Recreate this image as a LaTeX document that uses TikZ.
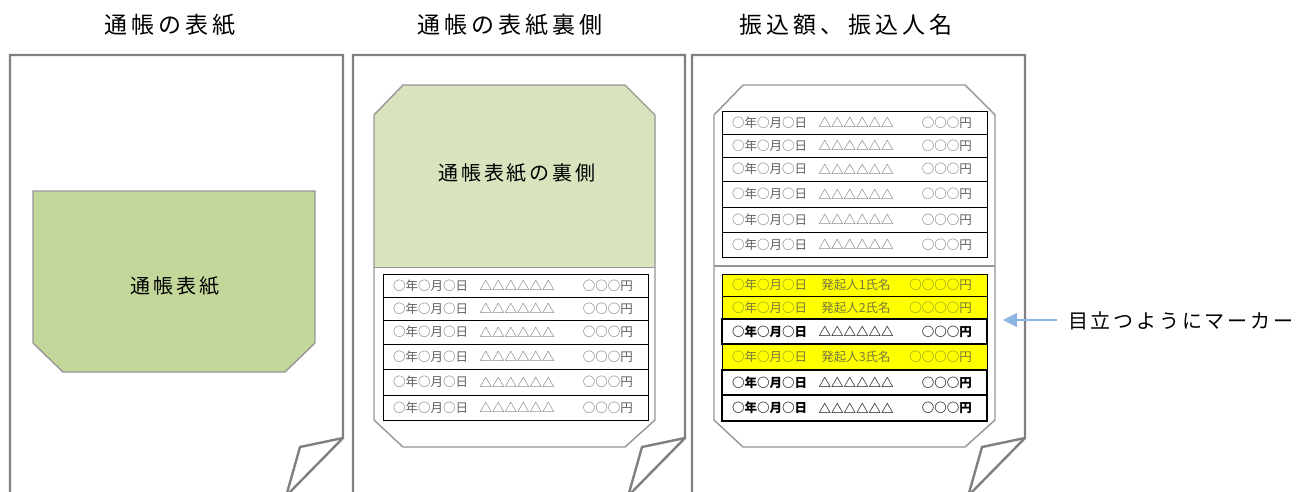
\documentclass[tikz,border=0pt]{standalone}
\usepackage{fontspec}
\newfontfamily\jp{Noto Sans CJK JP}
\newfontfamily\jptitle{Noto Sans CJK JP}[LetterSpace=18]
\newfontfamily\jpmid{Noto Sans CJK JP}[LetterSpace=14]
\usetikzlibrary{arrows.meta}
\definecolor{pagegray}{RGB}{128,128,128}
\definecolor{octgray}{RGB}{150,150,150}
\definecolor{green1}{RGB}{196,215,155}
\definecolor{green2}{RGB}{215,228,189}
\definecolor{lighttxt}{RGB}{95,95,95}
\definecolor{olivetxt}{RGB}{120,120,60}
\definecolor{mkyellow}{RGB}{255,255,0}
\definecolor{arrblue}{RGB}{141,180,226}
\tikzset{
  pageline/.style={draw=pagegray, line width=2.4pt, line join=miter},
  octline/.style={draw=octgray, line width=1.4pt},
  tbl/.style={draw=black, line width=0.9pt},
  tblb/.style={draw=black, line width=2pt},
  title/.style={font=\jptitle\fontsize{23}{26}\selectfont, inner sep=0pt},
  midtxt/.style={font=\jpmid\fontsize{20}{24}\selectfont, inner sep=0pt},
  lt/.style={font=\jp\fontsize{12.5}{14}\selectfont, text=lighttxt, inner sep=0pt},
  yt/.style={font=\jp\fontsize{12.5}{14}\selectfont, text=olivetxt, inner sep=0pt},
  bt/.style={font=\jp\bfseries\fontsize{12.5}{14}\selectfont, text=black, inner sep=0pt},
  arr/.style={draw=arrblue, line width=1.2pt, -{Triangle[length=14pt,width=14pt]}},
}
% light row: name, left, right, top, bottom
\newcommand\lrow[5]{%
  \draw[tbl] (#2,#4) rectangle (#3,#5);
  \node[lt, anchor=west] (#1d) at ({#2+10},{(#4+#5)/2}) {○年○月○日};
  \node[lt] (#1t) at ({#2+134},{(#4+#5)/2}) {△△△△△△};
  \node[lt, anchor=east] (#1y) at ({#3-15},{(#4+#5)/2}) {○○○円};
}
% yellow row
\newcommand\yrow[6]{%
  \filldraw[tbl, fill=mkyellow] (#2,#4) rectangle (#3,#5);
  \node[yt, anchor=west] (#1d) at ({#2+10},{(#4+#5)/2}) {○年○月○日};
  \node[yt] (#1t) at ({#2+134},{(#4+#5)/2}) {発起人#6氏名};
  \node[yt, anchor=east] (#1y) at ({#3-15},{(#4+#5)/2}) {○○○○円};
}
% bold row
\newcommand\brow[5]{%
  \draw[tblb] (#2,#4) rectangle (#3,#5);
  \node[bt, anchor=west] (#1d) at ({#2+10},{(#4+#5)/2}) {○年○月○日};
  \node[bt] (#1t) at ({#2+134},{(#4+#5)/2}) {△△△△△△};
  \node[bt, anchor=east] (#1y) at ({#3-15},{(#4+#5)/2}) {○○○円};
}
% page: left, right
\newcommand\pageshape[2]{%
  \draw[pageline] (#1,493) -- (#1,55) -- (#2,55) -- (#2,438) -- ({#2-54},493);
  \draw[pageline] (#2,438) -- ({#2-43},447) -- ({#2-56},493);
}
\begin{document}
\begin{tikzpicture}[x=1pt,y=-1pt]
\useasboundingbox[fill=white] (0,0) rectangle (1311,492);

% titles
\node[title] (t1) at (170,25) {通帳の表紙};
\node[title] (t2) at (510,25) {通帳の表紙裏側};
\node[title] (t3) at (846,25) {振込額、振込人名};

% pages
\pageshape{10}{343}
\pageshape{353}{685}
\pageshape{692}{1025}

% page 1 cover
\filldraw[octline, fill=green1] (33,191) -- (315,191) -- (315,343) -- (285,372) -- (63,372) -- (33,343) -- cycle;
\node[midtxt] (c1) at (175,286) {通帳表紙};

% page 2
\fill[green2] (403,85) -- (625,85) -- (655,115) -- (655,267) -- (374,267) -- (374,115) -- cycle;
\draw[octline] (403,85) -- (625,85) -- (655,115) -- (655,420) -- (625,447) -- (403,447) -- (374,420) -- (374,115) -- cycle;
\draw[draw=octgray, line width=0.8pt] (374,267) -- (655,267);
\node[midtxt] (c2) at (517,173) {通帳表紙の裏側};
\lrow{pa}{383}{648}{274}{297}
\lrow{pb}{383}{648}{297}{320}
\lrow{pc}{383}{648}{320}{344}
\lrow{pd}{383}{648}{344}{369}
\lrow{pe}{383}{648}{369}{395}
\lrow{pf}{383}{648}{395}{420}

% page 3
\draw[octline] (743,85) -- (965,85) -- (995,115) -- (995,420) -- (965,447) -- (743,447) -- (714,420) -- (714,115) -- cycle;
\draw[octline] (714,266) -- (995,266);
\lrow{qa}{722}{987}{111}{134}
\lrow{qb}{722}{987}{134}{157}
\lrow{qc}{722}{987}{157}{181}
\lrow{qd}{722}{987}{181}{207}
\lrow{qe}{722}{987}{207}{232}
\lrow{qf}{722}{987}{232}{257}

\yrow{ra}{722}{987}{274}{296}{1}
\yrow{rb}{722}{987}{296}{319}{2}
\brow{rc}{722}{987}{319}{344}
\yrow{rd}{722}{987}{344}{370}{3}
\brow{re}{722}{987}{370}{395}
\brow{rf}{722}{987}{395}{421}

% marker note
\node[midtxt, anchor=west] (mk) at (1068,321) {目立つようにマーカー};
\coordinate (tip) at (1003,320);
\draw[arr] ([xshift=-11pt]mk.west |- tip) -- (tip);
\end{tikzpicture}
\end{document}
